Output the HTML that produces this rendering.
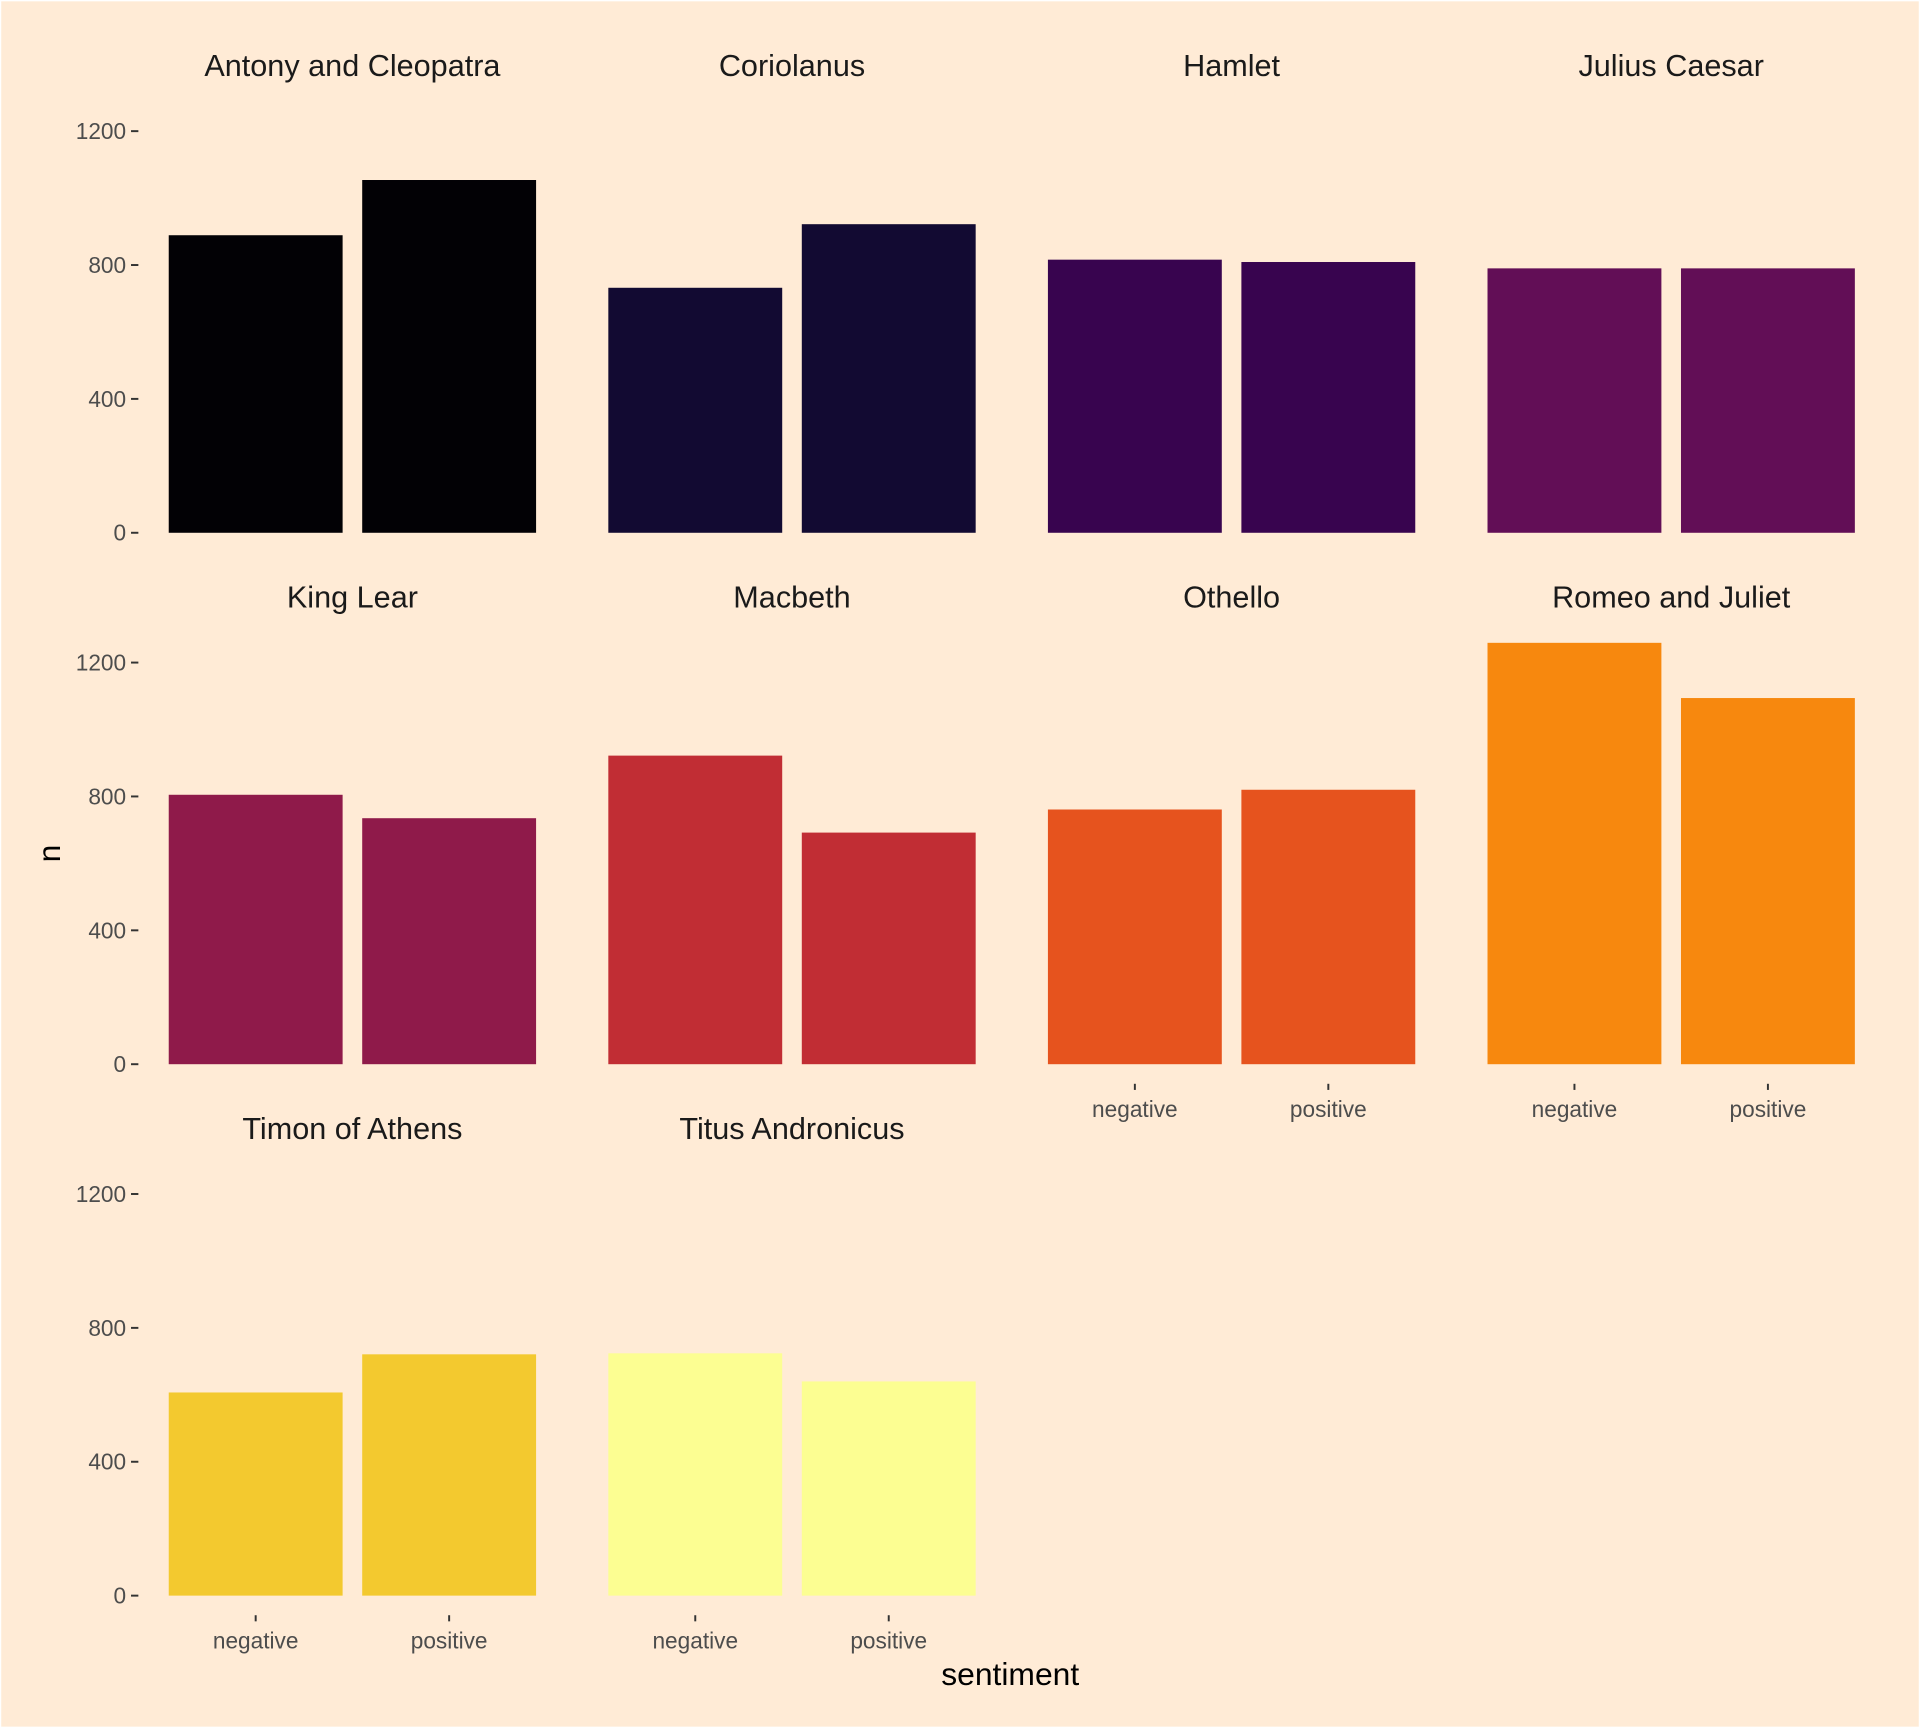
<!DOCTYPE html>
<html><head><meta charset="utf-8"><style>
html,body{margin:0;padding:0;background:#FFEBD6;}
svg{display:block;font-family:"Liberation Sans",Arial,sans-serif;}
</style></head><body>
<svg id="chart" width="1920" height="1728" viewBox="0 0 1568 1411" xmlns="http://www.w3.org/2000/svg">
<rect x="0" y="0" width="1568" height="1411" fill="#FFEBD6" stroke="#ffffff" stroke-width="2"/>
<g id="layer"></g>
</svg>
<script>
const plays = ["Antony and Cleopatra","Coriolanus","Hamlet","Julius Caesar","King Lear","Macbeth","Othello","Romeo and Juliet","Timon of Athens","Titus Andronicus"];
const sentiments = ["negative","positive"];
const negativeValues = [889, 732, 816, 790, 805, 922, 761, 1259, 607, 724];
const positiveValues = [1054, 922, 809, 790, 735, 692, 820, 1094, 721, 640];
const playColors = ["#020105","#120A32","#38044F","#620E56","#8F1A4A","#C12D34","#E6531E","#F7880E","#F3C92F","#FCFE92"];
const yTicks = [0, 400, 800, 1200];

const NS = "http://www.w3.org/2000/svg";
const layer = document.getElementById("layer");
const ncol = 4, colPitch = 359, rowPitch = 434;
const panelLeft0 = 114, bandW = 158, barW = 142;
const zeroY0 = 435, pxPerUnit = 328 / 1200;

function mk(tag, attrs, text) {
  const e = document.createElementNS(NS, tag);
  for (const k in attrs) e.setAttribute(k, attrs[k]);
  if (text !== undefined) e.textContent = text;
  layer.appendChild(e);
  return e;
}
function xCenter(col, i) { return panelLeft0 + col * colPitch + (0.6 + i) * bandW; }
function yScale(row, v) { return zeroY0 + row * rowPitch - v * pxPerUnit; }

const n = plays.length;
plays.forEach((play, p) => {
  const col = p % ncol, row = Math.floor(p / ncol);
  const t = mk("text", {x: panelLeft0 + col * colPitch + 1.1 * bandW, y: 62 + row * rowPitch, "text-anchor": "middle", "font-size": "25", fill: "#1a1a1a"}, play);
  
  
  const vals = [negativeValues[p], positiveValues[p]];
  vals.forEach((v, i) => {
    const y = yScale(row, v), y0 = yScale(row, 0);
    const r = mk("rect", {x: xCenter(col, i) - barW / 2, y: y, width: barW, height: y0 - y, fill: playColors[p]});
    
    
  });
  if (col === 0) {
    yTicks.forEach(tv => {
      const y = yScale(row, tv);
      const tk = mk("line", {x1: 107, x2: 113, y1: y, y2: y, stroke: "#333", "stroke-width": 1.6});
      
      
      const lb = mk("text", {x: 103, y: y + 6.5, "text-anchor": "end", "font-size": "18.5", fill: "#4d4d4d"}, String(tv));
      
      
    });
  }
  if (p + ncol >= n) {
    sentiments.forEach((s, i) => {
      const x = xCenter(col, i), y0 = yScale(row, 0);
      const tk = mk("line", {x1: x, x2: x, y1: y0 + 16, y2: y0 + 21, stroke: "#333", "stroke-width": 1.6});
      
      
      const lb = mk("text", {x: x, y: y0 + 43, "text-anchor": "middle", "font-size": "18.5", fill: "#4d4d4d"}, s);
      
      
    });
  }
});
const xt = mk("text", {x: 825, y: 1376, "text-anchor": "middle", "font-size": "26", fill: "#000"}, "sentiment");


const yt = mk("text", {x: 0, y: 0, "text-anchor": "middle", "font-size": "26", fill: "#000", transform: "translate(49,697) rotate(-90)"}, "n");


</script>
</body></html>
